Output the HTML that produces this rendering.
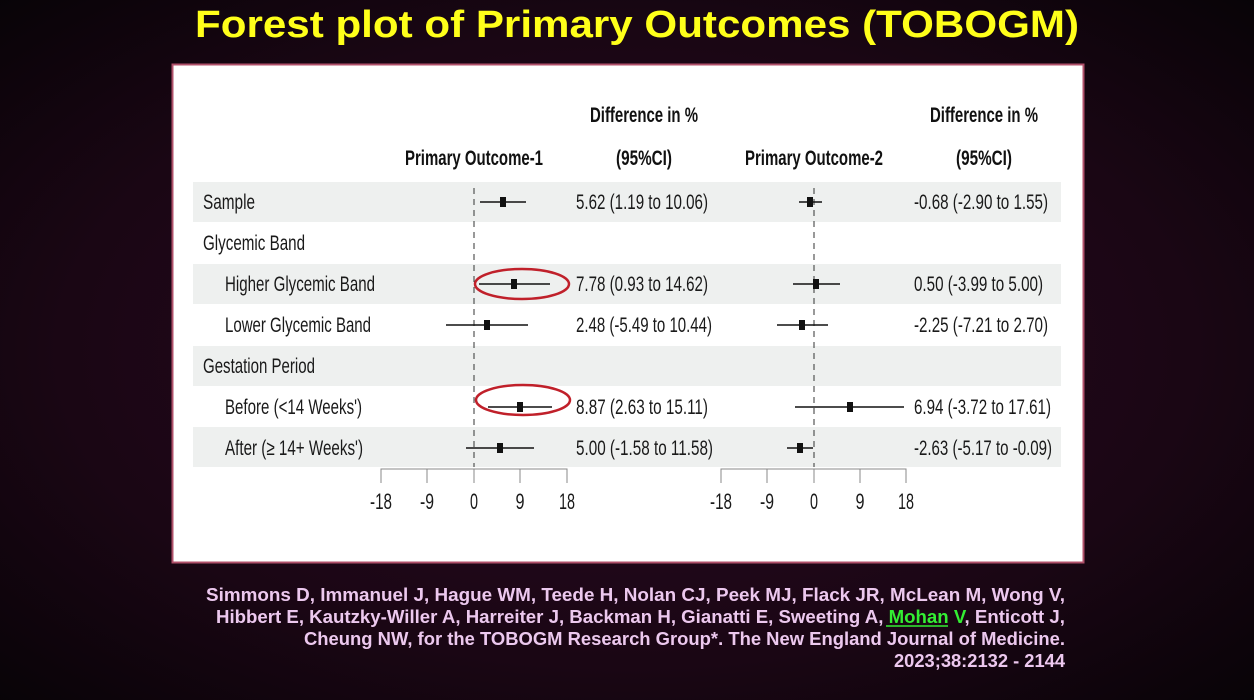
<!DOCTYPE html>
<html><head><meta charset="utf-8"><style>
html,body{margin:0;padding:0;background:#0a0508;}
svg{display:block}
.n{font-family:"Liberation Sans Narrow","Liberation Sans",sans-serif;}
</style></head><body>
<svg width="1254" height="700" viewBox="0 0 1254 700" xmlns="http://www.w3.org/2000/svg">
<defs>
<radialGradient id="bg" cx="0.5" cy="0.5" r="0.75">
<stop offset="0" stop-color="#2a0a22"/>
<stop offset="0.6" stop-color="#1a0614"/>
<stop offset="1" stop-color="#050305"/>
</radialGradient>
</defs>
<rect width="1254" height="700" fill="url(#bg)"/>
<text x="637" y="37" text-anchor="middle" font-family="Liberation Sans, sans-serif" font-weight="bold" font-size="38" fill="#ffff1a" textLength="884" lengthAdjust="spacingAndGlyphs">Forest plot of Primary Outcomes (TOBOGM)</text>
<rect x="172.5" y="64.5" width="911" height="498" fill="#fff" stroke="#b0506a" stroke-width="2"/>
<g fill="#eef0ef">
<rect x="193" y="182" width="868" height="40"/>
<rect x="193" y="264" width="868" height="40"/>
<rect x="193" y="346" width="868" height="40"/>
<rect x="193" y="427" width="868" height="40"/>
</g>
<g class="n" font-size="21" fill="#111" font-weight="bold">
<text x="644" y="122" text-anchor="middle" textLength="108" lengthAdjust="spacingAndGlyphs">Difference in %</text>
<text x="644" y="165" text-anchor="middle" textLength="56" lengthAdjust="spacingAndGlyphs">(95%CI)</text>
<text x="474" y="165" text-anchor="middle" textLength="138" lengthAdjust="spacingAndGlyphs">Primary Outcome-1</text>
<text x="984" y="122" text-anchor="middle" textLength="108" lengthAdjust="spacingAndGlyphs">Difference in %</text>
<text x="984" y="165" text-anchor="middle" textLength="56" lengthAdjust="spacingAndGlyphs">(95%CI)</text>
<text x="814" y="165" text-anchor="middle" textLength="138" lengthAdjust="spacingAndGlyphs">Primary Outcome-2</text>
</g>
<g class="n" font-size="21" fill="#1a1a1a">
<text x="203" y="209" textLength="52" lengthAdjust="spacingAndGlyphs">Sample</text>
<text x="203" y="250" textLength="102" lengthAdjust="spacingAndGlyphs">Glycemic Band</text>
<text x="225" y="291" textLength="150" lengthAdjust="spacingAndGlyphs">Higher Glycemic Band</text>
<text x="225" y="332" textLength="146" lengthAdjust="spacingAndGlyphs">Lower Glycemic Band</text>
<text x="203" y="373" textLength="112" lengthAdjust="spacingAndGlyphs">Gestation Period</text>
<text x="225" y="414" textLength="137" lengthAdjust="spacingAndGlyphs">Before (&lt;14 Weeks')</text>
<text x="225" y="455" textLength="138" lengthAdjust="spacingAndGlyphs">After (≥ 14+ Weeks')</text>
<text x="576" y="209" textLength="132" lengthAdjust="spacingAndGlyphs">5.62 (1.19 to 10.06)</text>
<text x="576" y="291" textLength="132" lengthAdjust="spacingAndGlyphs">7.78 (0.93 to 14.62)</text>
<text x="576" y="332" textLength="136" lengthAdjust="spacingAndGlyphs">2.48 (-5.49 to 10.44)</text>
<text x="576" y="414" textLength="132" lengthAdjust="spacingAndGlyphs">8.87 (2.63 to 15.11)</text>
<text x="576" y="455" textLength="137" lengthAdjust="spacingAndGlyphs">5.00 (-1.58 to 11.58)</text>
<text x="914" y="209" textLength="134" lengthAdjust="spacingAndGlyphs">-0.68 (-2.90 to 1.55)</text>
<text x="914" y="291" textLength="129" lengthAdjust="spacingAndGlyphs">0.50 (-3.99 to 5.00)</text>
<text x="914" y="332" textLength="134" lengthAdjust="spacingAndGlyphs">-2.25 (-7.21 to 2.70)</text>
<text x="914" y="414" textLength="137" lengthAdjust="spacingAndGlyphs">6.94 (-3.72 to 17.61)</text>
<text x="914" y="455" textLength="138" lengthAdjust="spacingAndGlyphs">-2.63 (-5.17 to -0.09)</text>
</g>
<g stroke="#333" stroke-width="1" stroke-dasharray="6,5">
<line x1="474" y1="188" x2="474" y2="467"/>
<line x1="814" y1="188" x2="814" y2="467"/>
</g>
<g stroke="#111" stroke-width="1.5">
<line x1="480" y1="202" x2="526" y2="202"/>
<line x1="479" y1="284" x2="550" y2="284"/>
<line x1="446" y1="325" x2="528" y2="325"/>
<line x1="488" y1="407" x2="552" y2="407"/>
<line x1="466" y1="448" x2="534" y2="448"/>
<line x1="799" y1="202" x2="822" y2="202"/>
<line x1="793" y1="284" x2="840" y2="284"/>
<line x1="777" y1="325" x2="828" y2="325"/>
<line x1="795" y1="407" x2="904" y2="407"/>
<line x1="787" y1="448" x2="813" y2="448"/>
</g>
<g fill="#111">
<rect x="500" y="197" width="6" height="10"/>
<rect x="511" y="279" width="6" height="10"/>
<rect x="484" y="320" width="6" height="10"/>
<rect x="517" y="402" width="6" height="10"/>
<rect x="497" y="443" width="6" height="10"/>
<rect x="807" y="197" width="6" height="10"/>
<rect x="813" y="279" width="6" height="10"/>
<rect x="799" y="320" width="6" height="10"/>
<rect x="847" y="402" width="6" height="10"/>
<rect x="797" y="443" width="6" height="10"/>
</g>
<g fill="none" stroke="#c0202a" stroke-width="2.5">
<ellipse cx="522" cy="284" rx="47" ry="15"/>
<ellipse cx="523" cy="400" rx="47" ry="15"/>
</g>
<g stroke="#888" stroke-width="1" fill="none">
<path d="M381 483V469H567V483M427 469V483M474 469V483M520 469V483"/>
<path d="M721 483V469H906V483M767 469V483M814 469V483M860 469V483"/>
</g>
<g class="n" font-size="22" fill="#1a1a1a" text-anchor="middle">
<text x="381" y="509" textLength="22" lengthAdjust="spacingAndGlyphs">-18</text><text x="427" y="509" textLength="14" lengthAdjust="spacingAndGlyphs">-9</text><text x="474" y="509" textLength="8" lengthAdjust="spacingAndGlyphs">0</text><text x="520" y="509" textLength="9" lengthAdjust="spacingAndGlyphs">9</text><text x="567" y="509" textLength="16" lengthAdjust="spacingAndGlyphs">18</text>
<text x="721" y="509" textLength="22" lengthAdjust="spacingAndGlyphs">-18</text><text x="767" y="509" textLength="14" lengthAdjust="spacingAndGlyphs">-9</text><text x="814" y="509" textLength="8" lengthAdjust="spacingAndGlyphs">0</text><text x="860" y="509" textLength="9" lengthAdjust="spacingAndGlyphs">9</text><text x="906" y="509" textLength="16" lengthAdjust="spacingAndGlyphs">18</text>
</g>
<g class="n" font-weight="bold" font-size="18" fill="#ecc8ee" text-anchor="end">
<text x="1065" y="601" textLength="859" lengthAdjust="spacingAndGlyphs">Simmons D, Immanuel J, Hague WM,  Teede H,  Nolan CJ,  Peek MJ, Flack JR,  McLean M, Wong V,</text>
<text x="1065" y="623" textLength="849" lengthAdjust="spacingAndGlyphs">Hibbert E, Kautzky-Willer A, Harreiter J, Backman H, Gianatti E,  Sweeting A, <tspan fill="#33ee33">Mohan V</tspan>,  Enticott J,</text>
<text x="1065" y="645" textLength="761" lengthAdjust="spacingAndGlyphs">Cheung NW, for the TOBOGM Research Group*. The New England Journal of Medicine.</text>
<text x="1065" y="667" textLength="171" lengthAdjust="spacingAndGlyphs">2023;38:2132 - 2144</text>
</g>
<line x1="886" y1="626" x2="948" y2="626" stroke="#33ee33" stroke-width="1.5"/>
</svg>
</body></html>
